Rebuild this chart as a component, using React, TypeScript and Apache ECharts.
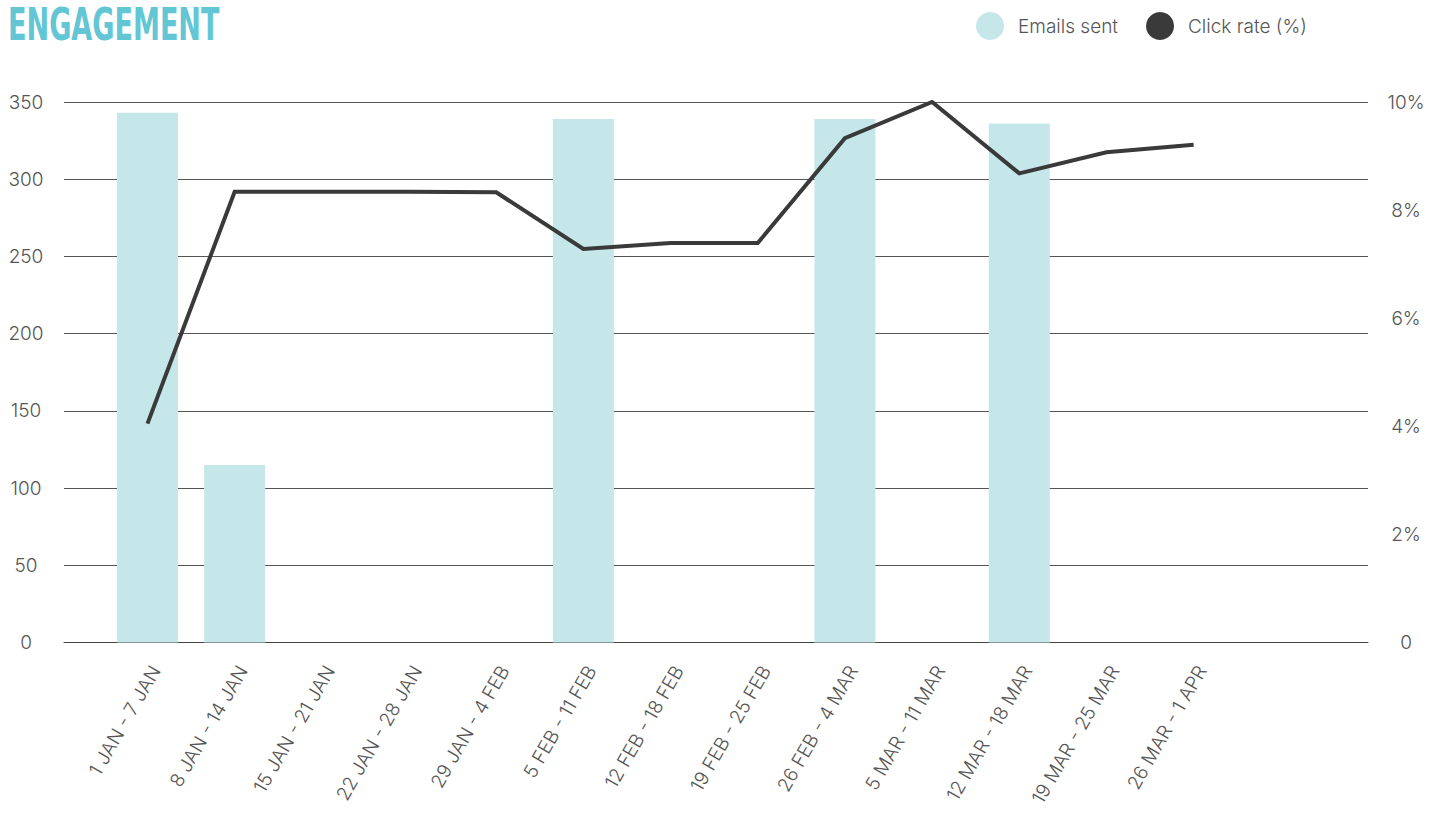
import React, { useEffect, useRef } from "react";
import * as echarts from "echarts";

const categories = [
  "1 JAN - 7 JAN",
  "8 JAN - 14 JAN",
  "15 JAN - 21 JAN",
  "22 JAN - 28 JAN",
  "29 JAN - 4 FEB",
  "5 FEB - 11 FEB",
  "12 FEB - 18 FEB",
  "19 FEB - 25 FEB",
  "26 FEB - 4 MAR",
  "5 MAR - 11 MAR",
  "12 MAR - 18 MAR",
  "19 MAR - 25 MAR",
  "26 MAR - 1 APR",
];

const emailsSent: (number | null)[] = [343, 115, null, null, null, 339, null, null, 339, null, 336, null, null];
const clickRate: number[] = [4.05, 8.34, 8.34, 8.34, 8.33, 7.28, 7.39, 7.39, 9.33, 10.0, 8.68, 9.07, 9.21];

const leftTicks = { min: 0, max: 350, interval: 50 };
const rightTicks = { min: 0, max: 10, interval: 2 };

const TEAL_TITLE = "#62c6d4";
const BAR_COLOR = "#c5e7ea";
const LINE_COLOR = "#3a3a3a";
const TEXT_COLOR = "#555555";
const FONT = "Inter, 'Noto Sans', sans-serif";

export default function App() {
  const ref = useRef<HTMLDivElement>(null);

  useEffect(() => {
    if (!ref.current) return;
    const chart = echarts.init(ref.current, undefined, { renderer: "svg" });
    const idx = categories.map((_, i) => i);

    chart.setOption({
      animation: false,
      backgroundColor: "#ffffff",
      textStyle: { fontFamily: FONT },
      graphic: [
        {
          type: "text",
          x: 8,
          y: 3,
          scaleX: 0.64,
          scaleY: 0.94,
          style: {
            text: "ENGAGEMENT",
            fontFamily: "'DejaVu Sans Condensed', 'DejaVu Sans', sans-serif",
            fontWeight: "bold",
            fontSize: 47,
            fill: TEAL_TITLE,
            textVerticalAlign: "top",
          },
        },
      ],
      legend: {
        left: 976,
        top: 12,
        padding: 0,
        itemWidth: 28,
        itemHeight: 28,
        itemGap: 28,
        icon: "circle",
        textStyle: {
          fontFamily: FONT,
          fontWeight: 300,
          fontSize: 19,
          color: TEXT_COLOR,
          padding: [0, 0, 0, 9],
        },
        data: ["Emails sent", "Click rate (%)"],
      },
      grid: {
        left: 64,
        right: 61,
        top: 102,
        bottom: 171.5,
        containLabel: false,
      },
      xAxis: {
        type: "value",
        min: -0.9576,
        max: 14,
        axisLine: { show: true, lineStyle: { color: "#444", width: 1 } },
        axisTick: { show: false },
        splitLine: { show: false },
        axisLabel: {
          customValues: idx,
          rotate: 60,
          margin: 20,
          verticalAlign: "top",
          fontFamily: FONT,
          fontWeight: 300,
          fontSize: 19,
          color: TEXT_COLOR,
          formatter: (v: number) => categories[Math.round(v)] ?? "",
        },
      },
      yAxis: [
        {
          type: "value",
          ...leftTicks,
          position: "left",
          axisLine: { show: false },
          axisTick: { show: false },
          splitLine: { show: true, lineStyle: { color: "#555", width: 1 } },
          axisLabel: {
            align: "center",
            margin: 38,
            fontFamily: FONT,
            fontWeight: 300,
            fontSize: 19,
            color: TEXT_COLOR,
          },
        },
        {
          type: "value",
          ...rightTicks,
          position: "right",
          axisLine: { show: false },
          axisTick: { show: false },
          splitLine: { show: false },
          axisLabel: {
            align: "center",
            margin: 38,
            fontFamily: FONT,
            fontWeight: 300,
            fontSize: 19,
            color: TEXT_COLOR,
            formatter: (v: number) => (v === 0 ? "0" : `${v}%`),
          },
        },
      ],
      series: [
        {
          name: "Emails sent",
          type: "bar",
          yAxisIndex: 0,
          barWidth: 61,
          itemStyle: { color: BAR_COLOR },
          data: emailsSent.map((v, i) => [i, v]),
          z: 1,
        },
        {
          name: "Click rate (%)",
          type: "line",
          yAxisIndex: 1,
          showSymbol: false,
          symbol: "none",
          lineStyle: { color: LINE_COLOR, width: 4, join: "miter" },
          itemStyle: { color: LINE_COLOR },
          data: clickRate.map((v, i) => [i, v]),
          z: 3,
        },
      ],
    });

    return () => chart.dispose();
  }, []);

  return (
    <div
      ref={ref}
      style={{ position: "fixed", left: 0, top: 0, width: 1429, height: 814 }}
    />
  );
}
